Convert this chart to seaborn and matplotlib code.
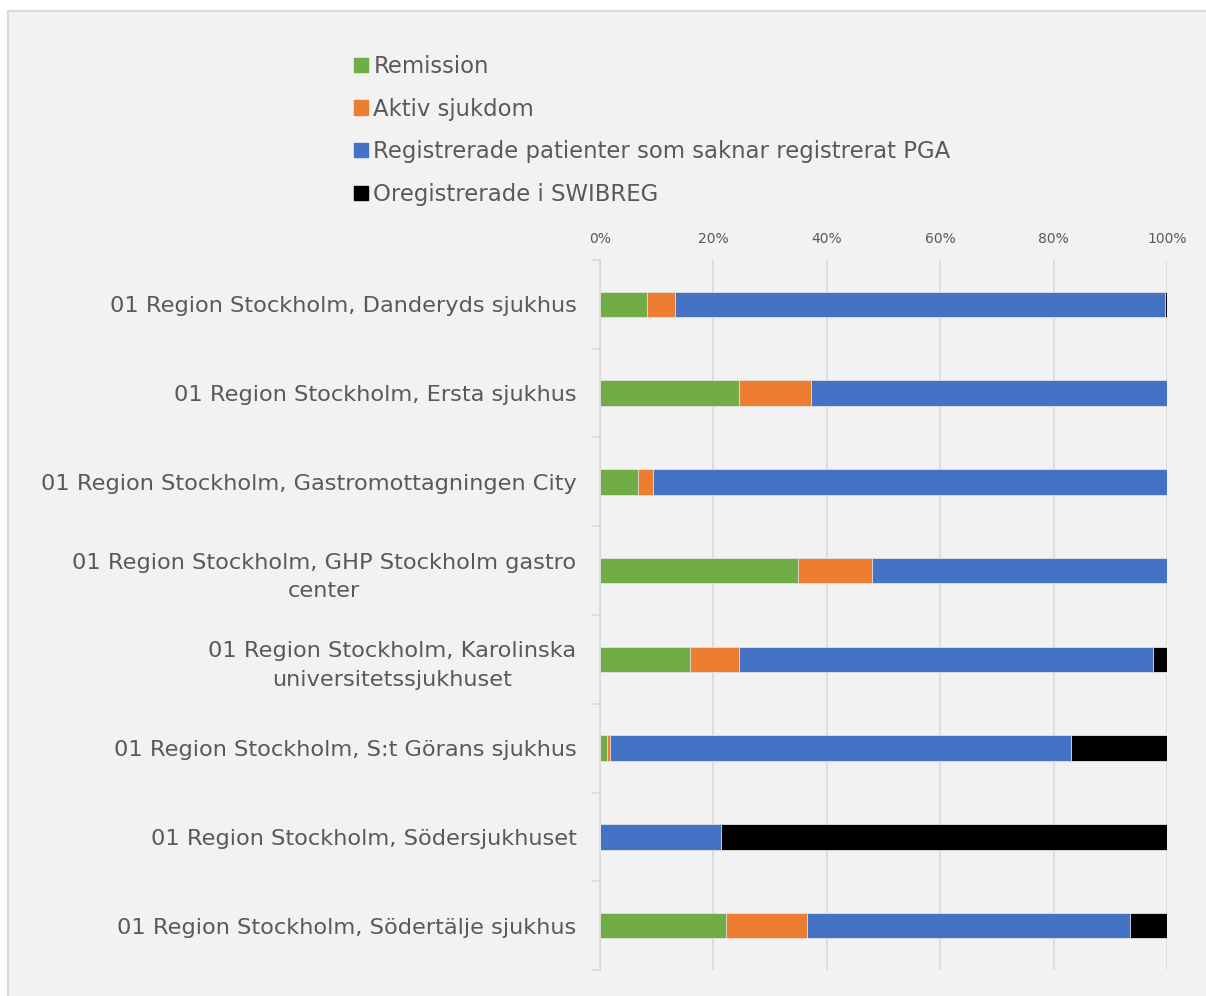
import matplotlib
matplotlib.use("Agg")
import matplotlib.pyplot as plt
from matplotlib.patches import Rectangle, Patch
from matplotlib.ticker import FixedLocator, PercentFormatter
import numpy as np
import pandas as pd
import seaborn as sns

# data (andel i procent)
kliniker = [
    "01 Region Stockholm, Danderyds sjukhus",
    "01 Region Stockholm, Ersta sjukhus",
    "01 Region Stockholm, Gastromottagningen City",
    "01 Region Stockholm, GHP Stockholm gastro\ncenter",
    "01 Region Stockholm, Karolinska\nuniversitetssjukhuset",
    "01 Region Stockholm, S:t Görans sjukhus",
    "01 Region Stockholm, Södersjukhuset",
    "01 Region Stockholm, Södertälje sjukhus",
]
remission = [8.3, 24.6, 6.7, 34.9, 15.8, 1.3, 0.0, 22.3]
aktiv = [5.0, 12.6, 2.7, 13.1, 8.7, 0.5, 0.0, 14.2]
saknar_pga = [86.4, 62.8, 90.6, 52.0, 73.0, 81.3, 21.3, 57.0]
oregistrerade = [0.3, 0.0, 0.0, 0.0, 2.5, 16.9, 78.7, 6.5]

serier = ["Remission", "Aktiv sjukdom",
          "Registrerade patienter som saknar registrerat PGA",
          "Oregistrerade i SWIBREG"]
farger = ["#70ad47", "#ed7d31", "#4472c4", "#000000"]

df = pd.DataFrame({"klinik": kliniker, serier[0]: remission, serier[1]: aktiv,
                   serier[2]: saknar_pga, serier[3]: oregistrerade})
kum = df[serier].cumsum(axis=1)

sns.set_style("white")
plt.rcParams["font.family"] = ["DejaVu Sans"]
textfarg = "#595959"
gridfarg = "#d9d9d9"

fig = plt.figure(figsize=(12.06, 9.96), dpi=100, facecolor="white")
ram = Rectangle((8 / 1206, -0.01), 1.0, 1.01 - 11 / 996, transform=fig.transFigure,
                facecolor="#f2f2f2", edgecolor=gridfarg, linewidth=1.5, zorder=-5)
fig.patches.append(ram)
ax = fig.add_axes([600 / 1206, 26 / 996, 567 / 1206, 710 / 996])
ax.set_facecolor("none")

# staplade staplar: rita från längsta kumulativa summan bakåt
for i in range(len(serier) - 1, -1, -1):
    sns.barplot(x=kum[serier[i]], y=df["klinik"], color=farger[i], orient="h",
                width=0.29, saturation=1, linewidth=0.6, edgecolor="#e4e4e4",
                ax=ax, zorder=3)

ax.set_xlim(0, 100)
ax.set_ylim(7.5, -0.5)
ax.set_xlabel("")
ax.set_ylabel("")
ax.xaxis.set_major_locator(FixedLocator([0, 20, 40, 60, 80, 100]))
ax.xaxis.set_major_formatter(PercentFormatter(decimals=0))
ax.xaxis.tick_top()
ax.tick_params(axis="x", length=0, pad=10, labelsize=10, labelcolor=textfarg)
ax.grid(axis="x", color=gridfarg, linewidth=1.2, zorder=0)
ax.set_axisbelow(True)

ax.tick_params(axis="y", which="major", left=False, length=0, pad=17,
               labelsize=16.2, labelcolor=textfarg)
ax.yaxis.set_minor_locator(FixedLocator(np.arange(-0.5, 8, 1)))
ax.tick_params(axis="y", which="minor", left=True, direction="out", length=6,
               width=1.2, color=gridfarg)
for lbl in ax.get_yticklabels():
    lbl.set_multialignment("center")
    lbl.set_linespacing(1.55)

for s in ["top", "right", "bottom"]:
    ax.spines[s].set_visible(False)
ax.spines["left"].set_color(gridfarg)
ax.spines["left"].set_linewidth(1.2)

handles = [Patch(facecolor=c, edgecolor=c) for c in farger]
fig.legend(handles, serier, loc="upper left", bbox_to_anchor=(345 / 1206, 1 - 46 / 996),
           frameon=False, fontsize=16.4, labelcolor=textfarg, handlelength=0.6,
           handleheight=0.6, handletextpad=0.25, labelspacing=0.86, borderaxespad=0)

fig.savefig("out.png", dpi=100, facecolor=fig.get_facecolor())
